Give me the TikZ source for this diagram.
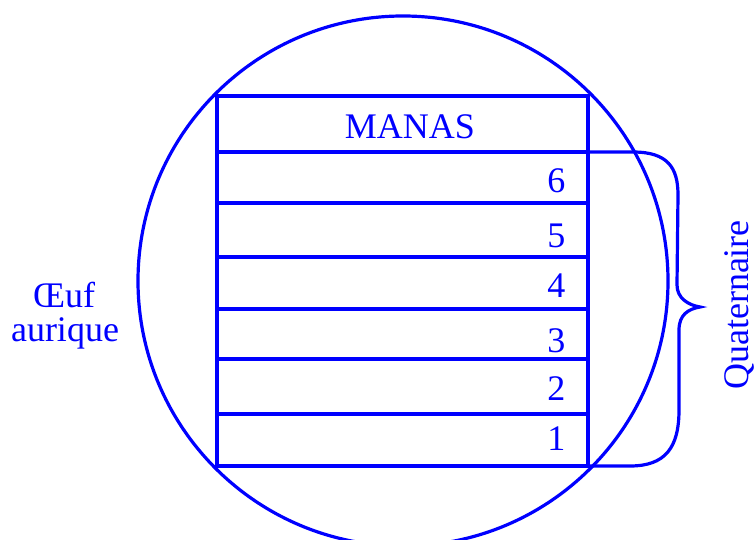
\documentclass[tikz,border=0pt]{standalone}
\usepackage{fontspec}
\setmainfont{Liberation Serif}
\usepackage{tikz}

\begin{document}
\begin{tikzpicture}[x=0.5pt, y=-0.5pt, line width=1.6pt, blue,
    every node/.style={text=blue, font=\fontsize{18}{15}\selectfont, inner sep=0pt}]
                    \useasboundingbox (0,0) rectangle (755,540);
                    % Circle
                    \draw (403,281) circle [radius=132.5pt];
                    % Table
                    \draw (217,96) rectangle (588,466);
                    \foreach \y in {152,203,257,309,359,414}
                        \draw (217,\y) -- (588,\y);
                    % Labels
                    \node (manas) at (410,127) {MANAS};
                    \node[anchor=base east] (r6) at (567,192) {6};
                    \node[anchor=base east] (r5) at (567,247) {5};
                    \node[anchor=base east] (r4) at (567,297) {4};
                    \node[anchor=base east] (r3) at (567,352) {3};
                    \node[anchor=base east] (r2) at (567,400) {2};
                    \node[anchor=base east] (r1) at (567,450) {1};
                    \node[anchor=base] (oeuf) at (64,307) {Œuf};
                    \node[anchor=base] (aurique) at (65,341) {aurique};
                    \node[rotate=90] (quat) at (739,305) {Quaternaire};
                    % Brace
                    \draw (588,152) -- (633,152)
                        .. controls (668,152) and (678,168) .. (678,195)
                        -- (677,285) .. controls (677,298) and (688,305) .. (700,307)
                        .. controls (688,309) and (679,315) .. (679,330)
                        -- (679,410) .. controls (679,448) and (665,466) .. (630,466)
                        -- (588,466);
                \end{tikzpicture}
\end{document}
